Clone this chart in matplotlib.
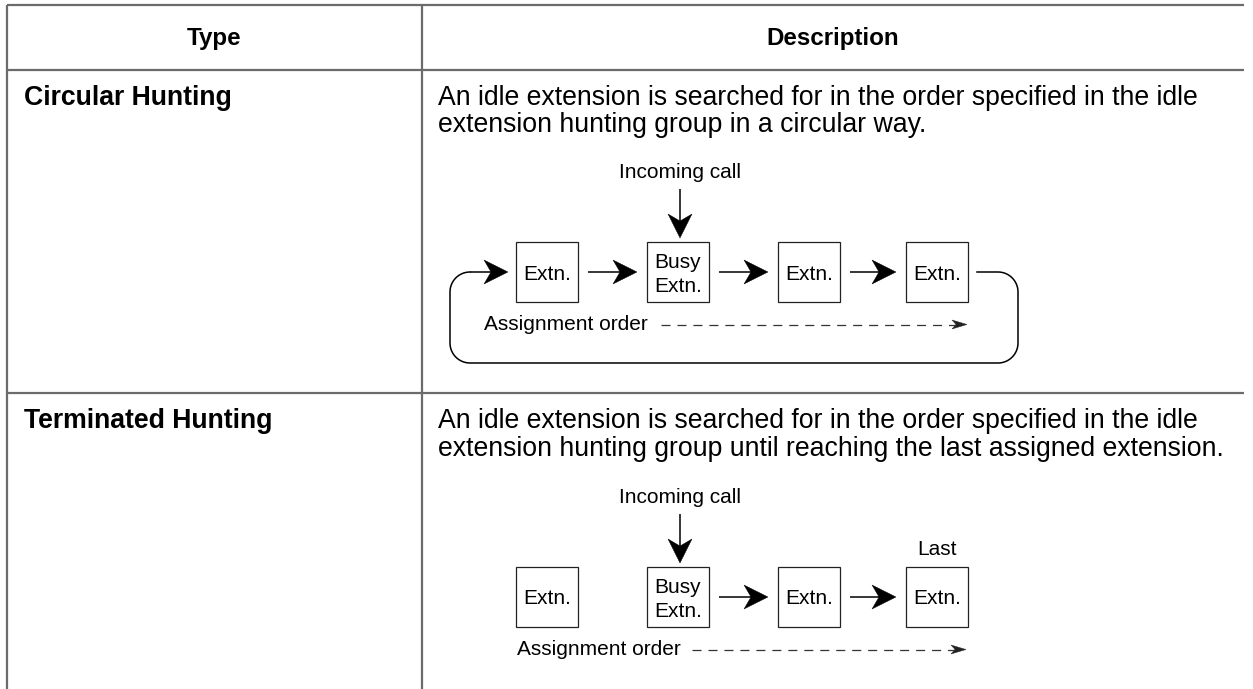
import matplotlib
matplotlib.use("Agg")
import matplotlib.pyplot as plt
import numpy as np
from matplotlib.patches import Polygon, Rectangle

plt.rcParams['font.family'] = ['Liberation Sans', 'DejaVu Sans']
plt.rcParams['lines.scale_dashes'] = False

# ---------------- content ----------------
header_labels = ["Type", "Description"]
type_labels = ["Circular Hunting", "Terminated Hunting"]
desc_circular = ["An idle extension is searched for in the order specified in the idle",
                 "extension hunting group in a circular way."]
desc_terminated = ["An idle extension is searched for in the order specified in the idle",
                   "extension hunting group until reaching the last assigned extension."]
box_labels = ["Extn.", "Busy\nExtn.", "Extn.", "Extn."]
incoming_label = "Incoming call"
order_label = "Assignment order"
last_label = "Last"

# ---------------- layout ----------------
W, H = 1253, 689
fig = plt.figure(figsize=(W / 100, H / 100), dpi=100)
ax = fig.add_axes([0, 0, 1, 1])
ax.set_xlim(0, W)
ax.set_ylim(H, 0)
ax.axis('off')

GRID = '#6b6b6b'
x_left, x_mid, x_right = 7, 422, 1244
y_top, y_head, y_row2 = 5, 70, 393
BODY = 19.15
HEAD = 17.4
DIAG = 15

# table lines
for y in (y_top, y_head, y_row2):
    ax.plot([x_left, x_right], [y, y], color=GRID, lw=1.6, solid_capstyle='butt')
for x in (x_left, x_mid):
    ax.plot([x, x], [y_top, H], color=GRID, lw=1.6, solid_capstyle='butt')

# header
ax.text((x_left + x_mid) / 2, 45, header_labels[0], ha='center', va='baseline',
        fontsize=HEAD, fontweight='bold')
ax.text((x_mid + x_right) / 2, 45, header_labels[1], ha='center', va='baseline',
        fontsize=HEAD, fontweight='bold')

row_tops = [y_head, y_row2]
descs = [desc_circular, desc_terminated]
for i, top in enumerate(row_tops):
    ax.text(24, top + 35, type_labels[i], ha='left', va='baseline',
            fontsize=BODY, fontweight='bold')
    for j, line in enumerate(descs[i]):
        ax.text(438, top + 35 + 27.5 * j, line, ha='left', va='baseline', fontsize=BODY)


def arrowhead(tip, d, L=24, Wd=12, N=7, color='black'):
    tip = np.array(tip, float)
    d = np.array(d, float)
    d = d / np.linalg.norm(d)
    n = np.array([-d[1], d[0]])
    pts = [tip, tip - L * d + Wd * n, tip - (L - N) * d, tip - L * d - Wd * n]
    ax.add_patch(Polygon(pts, closed=True, fc=color, ec=color, lw=0.3, zorder=4))


def arrow(start, tip, L=24, Wd=12, N=7):
    start = np.array(start, float)
    tip = np.array(tip, float)
    d = (tip - start) / np.linalg.norm(tip - start)
    end = tip - (L - N) * d
    ax.plot([start[0], end[0]], [start[1], end[1]], color='black', lw=1.1,
            solid_capstyle='butt', zorder=3)
    arrowhead(tip, d, L, Wd, N)


box_lefts = [516, 647, 778, 906]
box_w, box_h = 62, 60


def diagram(oy, circular):
    bt = 242 + oy  # box top
    cy = bt + box_h / 2
    # incoming call
    ax.text(680, 178 + oy, incoming_label, ha='center', va='baseline', fontsize=DIAG)
    arrow((680, 189 + oy), (680, 238 + oy))
    # boxes
    for k, (bx, lab) in enumerate(zip(box_lefts, box_labels)):
        ax.add_patch(Rectangle((bx, bt), box_w, box_h, fc='white', ec='#222222',
                               lw=0.9, zorder=2))
        if '\n' in lab:
            l1, l2 = lab.split('\n')
            ax.text(bx + box_w / 2, bt + 26, l1, ha='center', va='baseline', fontsize=DIAG, zorder=3)
            ax.text(bx + box_w / 2, bt + 50, l2, ha='center', va='baseline', fontsize=DIAG, zorder=3)
        else:
            ax.text(bx + box_w / 2, cy + 7.5, lab, ha='center', va='baseline', fontsize=DIAG, zorder=3)
    # arrows between boxes
    start_k = 0 if circular else 1
    for k in range(start_k, 3):
        arrow((box_lefts[k] + box_w + 10, cy), (box_lefts[k + 1] - 10, cy))
    if circular:
        r = 20
        xl, xr = 450, 1018
        yt, yb = cy, 363 + oy
        pts = [(box_lefts[3] + box_w + 9, yt), (xr - r, yt)]
        t = np.linspace(-np.pi / 2, 0, 20)
        pts += list(zip(xr - r + r * np.cos(t), yt + r + r * np.sin(t)))
        t = np.linspace(0, np.pi / 2, 20)
        pts += list(zip(xr - r + r * np.cos(t), yb - r + r * np.sin(t)))
        t = np.linspace(np.pi / 2, np.pi, 20)
        pts += list(zip(xl + r + r * np.cos(t), yb - r + r * np.sin(t)))
        t = np.linspace(np.pi, 1.5 * np.pi, 20)
        pts += list(zip(xl + r + r * np.cos(t), yt + r + r * np.sin(t)))
        pts = np.array(pts)
        ax.plot(pts[:, 0], pts[:, 1], color='black', lw=1.1, zorder=3)
        arrow((xl + r, yt), (box_lefts[0] - 8, yt))
        ox, dx0, dx1 = 484, 661, 967
    else:
        ax.text(box_lefts[3] + box_w / 2, 555 - 325 + oy, last_label, ha='center',
                va='baseline', fontsize=DIAG)
        ox, dx0, dx1 = 517, 692, 966
    oyb = 330 + oy
    ax.text(ox, oyb, order_label, ha='left', va='baseline', fontsize=DIAG)
    ly = oyb - 5.5
    ax.plot([dx0, dx1 - 12], [ly, ly], color='#333333', lw=0.9, dashes=[6.5, 5])
    arrowhead((dx1, ly), (1, 0), L=15, Wd=4.5, N=4, color='#222222')


diagram(0, True)
diagram(325, False)

fig.savefig('out.png', dpi=100)
